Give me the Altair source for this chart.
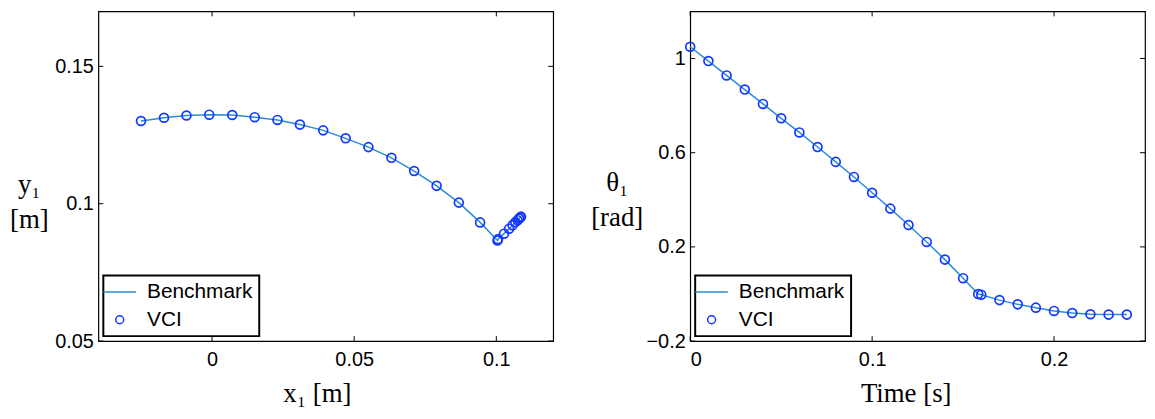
import altair as alt
import pandas as pd

# ---------------- data ----------------
x1 = [-0.0250, -0.0169, -0.0090, -0.0010, 0.0071, 0.0150, 0.0230, 0.0309, 0.0391,
      0.0470, 0.0550, 0.0631, 0.0711, 0.0790, 0.0868, 0.0943, 0.1004, 0.1006,
      0.1027, 0.1045, 0.1057, 0.1067, 0.1075, 0.1080, 0.1084, 0.1087]
y1 = [0.1301, 0.1313, 0.1321, 0.1324, 0.1323, 0.1315, 0.1305, 0.1288, 0.1267,
      0.1238, 0.1206, 0.1167, 0.1119, 0.1065, 0.1004, 0.0932, 0.0866, 0.0871,
      0.0891, 0.0909, 0.0922, 0.0933, 0.0940, 0.0946, 0.0950, 0.0953]

time = [0.0, 0.01, 0.02, 0.03, 0.04, 0.05, 0.06, 0.07, 0.08, 0.09, 0.10, 0.11,
        0.12, 0.13, 0.14, 0.15, 0.1583, 0.16, 0.17, 0.18, 0.19, 0.20, 0.21, 0.22,
        0.23, 0.24]
theta1 = [1.05, 0.989, 0.928, 0.868, 0.807, 0.746, 0.686, 0.624, 0.561, 0.497,
          0.430, 0.3625, 0.293, 0.221, 0.146, 0.067, 0.0, -0.003, -0.026, -0.044,
          -0.058, -0.072, -0.081, -0.086, -0.0875, -0.0875]

series = ["Benchmark", "VCI"]

left_xticks = [0.0, 0.05, 0.1]
left_yticks = [0.05, 0.1, 0.15]
right_xticks = [0.0, 0.1, 0.2]
right_yticks = [-0.2, 0.2, 0.6, 1.0]

LINE_C = "#2a8cd8"
CIRC_C = "#1238ff"
TICK = 5


def panel(xs, ys, xdom, ydom, xticks, yticks, xtitle, ytitle, W, H,
          ytx, yty, xtx, xty):
    df = pd.DataFrame({"x": xs, "y": ys, "i": list(range(len(xs)))})
    xsc = alt.Scale(domain=xdom, nice=False, zero=False)
    ysc = alt.Scale(domain=ydom, nice=False, zero=False)
    xax = alt.Axis(values=xticks, format="~g", title=xtitle, titleX=xtx, titleY=xty,
                   titleBaseline="middle", titleAlign="center", labelPadding=9)
    yax = alt.Axis(values=yticks, format="~g", title=ytitle, titleAngle=0, titleX=ytx,
                   titleY=yty, titleAlign="center", titleBaseline="middle",
                   titleLineHeight=36, labelPadding=5)

    line = alt.Chart(df).mark_line(color=LINE_C, strokeWidth=1.5).encode(
        x=alt.X("x:Q", scale=xsc, axis=xax),
        y=alt.Y("y:Q", scale=ysc, axis=yax),
        order="i:Q",
    )
    pts = alt.Chart(df).mark_point(shape="circle", filled=False, size=80,
                                   strokeWidth=1.7, color=CIRC_C, opacity=1).encode(
        x=alt.X("x:Q", scale=xsc), y=alt.Y("y:Q", scale=ysc)
    )

    xt = pd.DataFrame({"v": xticks})
    yt = pd.DataFrame({"v": yticks})
    tb = alt.Chart(xt).mark_rule(color="black", strokeWidth=1).encode(
        x=alt.X("v:Q", scale=xsc), y=alt.value(H), y2=alt.value(H - TICK))
    tt = alt.Chart(xt).mark_rule(color="black", strokeWidth=1).encode(
        x=alt.X("v:Q", scale=xsc), y=alt.value(0), y2=alt.value(TICK))
    tl = alt.Chart(yt).mark_rule(color="black", strokeWidth=1).encode(
        y=alt.Y("v:Q", scale=ysc), x=alt.value(0), x2=alt.value(TICK))
    tr = alt.Chart(yt).mark_rule(color="black", strokeWidth=1).encode(
        y=alt.Y("v:Q", scale=ysc), x=alt.value(W), x2=alt.value(W - TICK))

    leg_df = pd.DataFrame({"s": series})
    leg = alt.Chart(leg_df).mark_point(filled=False, opacity=0).encode(
        x=alt.value(W / 2), y=alt.value(H / 2),
        color=alt.Color("s:N", scale=alt.Scale(domain=series, range=[LINE_C, CIRC_C]),
                        legend=alt.Legend(title=None, symbolOpacity=1)),
        shape=alt.Shape("s:N", scale=alt.Scale(domain=series,
                                               range=["M-4.1,0H4.1", "circle"]),
                        legend=alt.Legend(title=None, symbolOpacity=1)),
    )
    return alt.layer(line, pts, tb, tt, tl, tr, leg).properties(width=W, height=H)


H = 332
left = panel(x1, y1, [-0.04, 0.12], [0.05, 0.17], left_xticks, left_yticks,
             "x₁  [m]", ["y₁", "[m]"], 458, H, -70, 174, 220, 53)
right = panel(time, theta1, [0.0, 0.25], [-0.2, 1.2], right_xticks, right_yticks,
              "Time [s]", ["θ₁", "[rad]"], 458, H, -74, 172, 217, 53)

chart = alt.hconcat(left, right, spacing=35).resolve_scale(
    color="independent", shape="independent"
).resolve_legend(color="independent", shape="independent").properties(
    padding={"left": 0, "top": 0, "right": 0, "bottom": 5}
).configure_view(
    stroke="black", strokeWidth=1.2
).configure_axis(
    labelFont="Liberation Sans", labelFontSize=20, labelColor="black",
    titleFont="Liberation Serif", titleFontSize=27, titleFontWeight="normal",
    titleColor="black", domain=False, ticks=False, tickSize=0, grid=False
).configure_legend(
    orient="bottom-left", offset=5, strokeColor="black", strokeWidth=2,
    fillColor="white", padding=6, rowPadding=6, labelFont="Liberation Sans",
    labelFontSize=21, labelColor="black", symbolSize=64, symbolStrokeWidth=1.5,
    labelOffset=17, cornerRadius=0
)

chart.save("out.html", embed_options={"renderer": "svg", "actions": False})
